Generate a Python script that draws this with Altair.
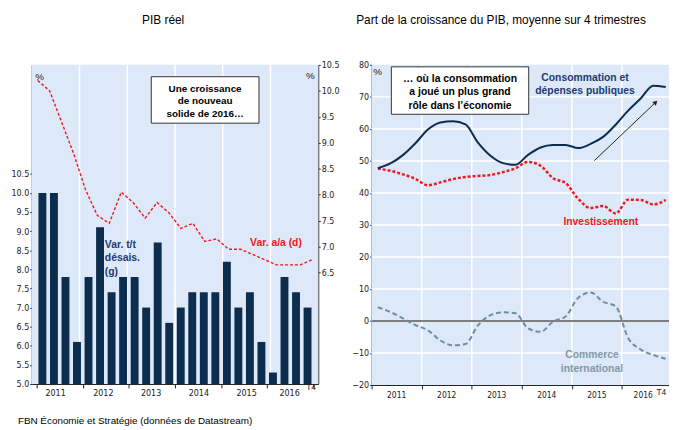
import altair as alt
import pandas as pd

# ---------------- data ----------------
quarters = list(range(24))          # 2011 T1 ... 2016 T4
years = ["2011", "2012", "2013", "2014", "2015", "2016"]

# PIB réel : variation t/t désaisonnalisée (g)
bar_tt = [10.0, 10.0, 7.8, 6.1, 7.8, 9.1, 7.4, 7.8, 7.8, 7.0, 8.7, 6.6,
          7.0, 7.4, 7.4, 7.4, 8.2, 7.0, 7.4, 6.1, 5.3, 7.8, 7.4, 7.0]
# PIB réel : variation a/a (d)
var_aa = [10.2, 10.0, 9.4, 8.8, 8.1, 7.6, 7.45, 8.05, 7.85, 7.55, 7.85, 7.65,
          7.35, 7.45, 7.1, 7.15, 6.95, 6.95, 6.85, 6.75, 6.65, 6.65, 6.65, 6.75]
# Part de la croissance du PIB (moyenne 4 trimestres)
conso = [47.7, 49.2, 51.8, 55.5, 59.8, 62.0, 62.4, 61.4, 55.7, 51.6, 49.3, 48.8,
         51.9, 54.2, 55.0, 55.0, 54.0, 55.3, 57.5, 61.3, 65.7, 69.5, 73.5, 73.1]
invest = [47.6, 46.9, 45.8, 44.4, 42.4, 43.3, 44.3, 45.0, 45.3, 45.6, 46.5, 47.7,
          49.7, 48.5, 44.6, 43.1, 38.2, 35.3, 35.9, 33.6, 37.9, 37.8, 36.4, 37.8]
commerce = [4.3, 2.8, 0.8, -1.3, -2.9, -6.1, -7.6, -7.2, -1.4, 1.8, 2.7, 2.4,
            -2.3, -3.4, -0.2, 1.4, 7.2, 8.9, 6.0, 4.6, -5.3, -8.9, -10.6, -11.8]

left_ticks = [5.0, 5.5, 6.0, 6.5, 7.0, 7.5, 8.0, 8.5, 9.0, 9.5, 10.0, 10.5]
right_ticks = [6.5, 7.0, 7.5, 8.0, 8.5, 9.0, 9.5, 10.0, 10.5]
share_ticks = [-20, -10, 0, 10, 20, 30, 40, 50, 60, 70, 80]

# ---------------- layout ----------------
W, H = 669, 422
TOP = 55
LX0, LX1, LBOT = 24, 314, 378
RX0, RX1, RBOT = 368, 672, 379

BG = "#dde9f9"
NAVY = "#0c2d4d"
RED = "#f01820"
GREY = "#6f8e9d"
LBL_NAVY = "#1d3b70"
LBL_GREY = "#8198a8"
FONT = "Liberation Sans"
NARROW = "Liberation Sans Narrow, Arial Narrow, DejaVu Sans Condensed, Liberation Sans"
AXC = "#222222"

boundaries = [q - 0.5 for q in range(0, 25, 4)]
inner_bounds = boundaries[1:-1]

LX = alt.Scale(domain=[-0.5, 23.5], range=[LX0, LX1], nice=False, zero=False)
LY = alt.Scale(domain=[5.0, 13.35], range=[LBOT, TOP], nice=False, zero=False)
LY2 = alt.Scale(domain=[4.356, 10.5], range=[LBOT, TOP], nice=False, zero=False)
RX = alt.Scale(domain=[-0.5, 23.5], range=[RX0, RX1], nice=False, zero=False)
RY = alt.Scale(domain=[-20, 80], range=[RBOT, TOP], nice=False, zero=False)

ax_common = dict(title=None, grid=False, domainColor=AXC, tickColor=AXC,
                 labelColor=AXC, labelFont=NARROW, labelFontSize=9,
                 labelFlush=False, domainWidth=1, tickWidth=1)

df = pd.DataFrame({"q": quarters, "bar": bar_tt, "aa": var_aa,
                   "conso": conso, "invest": invest, "commerce": commerce})


def text(s, x, y, size=10.5, color="black", bold=True, align="center", font=FONT):
    return alt.Chart(pd.DataFrame({"t": [s]})).mark_text(
        align=align, baseline="middle", fontSize=size, font=font,
        fontWeight="bold" if bold else "normal", color=color
    ).encode(x=alt.value(x), y=alt.value(y), text="t:N")


def box(x0, x1, y0, y1):
    return alt.Chart(pd.DataFrame({"a": [0]})).mark_rect(
        fill="white", stroke="#333333", strokeWidth=1
    ).encode(x=alt.value(x0), x2=alt.value(x1), y=alt.value(y0), y2=alt.value(y1))


def bg(x0, x1, y1):
    return alt.Chart(pd.DataFrame({"a": [0]})).mark_rect(fill=BG).encode(
        x=alt.value(x0), x2=alt.value(x1), y=alt.value(TOP), y2=alt.value(y1))


# ---------------- left panel ----------------
l_bg = bg(LX0, LX1, LBOT)
l_grid = alt.Chart(pd.DataFrame({"b": inner_bounds})).mark_rule(
    color="white", strokeWidth=1.5
).encode(x=alt.X("b:Q", scale=LX, axis=None), y=alt.value(TOP), y2=alt.value(LBOT))

bars = alt.Chart(df).mark_bar(size=8, color=NAVY).encode(
    x=alt.X("q:Q", scale=LX, axis=alt.Axis(orient="bottom", offset=LBOT - H,
                                            values=boundaries, labels=False,
                                            tickSize=4, **ax_common)),
    y=alt.Y("bar:Q", scale=LY, axis=alt.Axis(orient="left", offset=-LX0,
                                              values=left_ticks,
                                              format=".1f", tickSize=2,
                                              labelPadding=1, **ax_common)),
    y2=alt.datum(5.0),
)

aa_line = alt.Chart(df).mark_line(color=RED, strokeWidth=1.4, strokeDash=[3, 2]).encode(
    x=alt.X("q:Q", scale=LX, axis=None),
    y=alt.Y("aa:Q", scale=LY2, axis=alt.Axis(orient="right", offset=LX1 - W,
                                              values=right_ticks, format=".1f",
                                              tickSize=2, labelPadding=1, **ax_common)),
)

l_year_pos = [4 * i + 1.5 for i in range(6)]
l_year_pos[-1] -= 0.4
l_years = alt.Chart(pd.DataFrame({"p": l_year_pos, "y": years})).mark_text(
    font=NARROW, fontSize=9, color=AXC, baseline="middle"
).encode(x=alt.X("p:Q", scale=LX, axis=None), y=alt.value(387), text="y:N")
l_t4 = alt.Chart(pd.DataFrame({"p": [22.9], "t": ["T4"]})).mark_text(
    font=FONT, fontSize=8.5, color=AXC, baseline="middle"
).encode(x=alt.X("p:Q", scale=LX, axis=None), y=alt.value(381.5), text="t:N")

left_layers = [
    l_bg, l_grid, bars, aa_line, l_years, l_t4,
    box(145, 254, 67, 114),
    text("Une croissance", 199.5, 79, 10),
    text("de nouveau", 199.5, 92, 10),
    text("solide de 2016…", 199.5, 105, 10),
    text("Var. a/a (d)", 245, 235, 10.5, RED, align="left"),
    text("Var. t/t", 98, 237, 10.5, LBL_NAVY, align="left"),
    text("désais.", 98, 251, 10.5, LBL_NAVY, align="left"),
    text("(g)", 98, 265, 10.5, LBL_NAVY, align="left"),
    text("%", 32, 67, 10, "#222", bold=False),
    text("%", 306, 66, 10, "#222", bold=False),
]

# ---------------- right panel ----------------
r_bg = bg(RX0, W, RBOT)
r_vgrid = alt.Chart(pd.DataFrame({"b": inner_bounds})).mark_rule(
    color="white", strokeWidth=1.5
).encode(x=alt.X("b:Q", scale=RX, axis=None), y=alt.value(TOP), y2=alt.value(RBOT))
r_hgrid = alt.Chart(pd.DataFrame({"v": share_ticks[1:-1]})).mark_rule(
    color="white", strokeWidth=1.5
).encode(y=alt.Y("v:Q", scale=RY, axis=None), x=alt.value(RX0), x2=alt.value(W))
zero = alt.Chart(pd.DataFrame({"v": [0]})).mark_rule(
    color="#555555", strokeWidth=1.5
).encode(y=alt.Y("v:Q", scale=RY, axis=None), x=alt.value(RX0), x2=alt.value(W))

cons_line = alt.Chart(df).mark_line(color=NAVY, strokeWidth=2, interpolate="monotone").encode(
    x=alt.X("q:Q", scale=RX, axis=alt.Axis(orient="bottom", offset=RBOT - H,
                                            values=boundaries, labels=False,
                                            tickSize=4, **ax_common)),
    y=alt.Y("conso:Q", scale=RY, axis=alt.Axis(orient="left", offset=-RX0,
                                                values=share_ticks, format="d",
                                                tickSize=2, labelPadding=1, **ax_common)),
)
inv_line = alt.Chart(df).mark_line(color=RED, strokeWidth=2.5, strokeDash=[3, 2],
                                   interpolate="monotone").encode(
    x=alt.X("q:Q", scale=RX, axis=None), y=alt.Y("invest:Q", scale=RY, axis=None))
com_line = alt.Chart(df).mark_line(color=GREY, strokeWidth=2, strokeDash=[5, 3],
                                   interpolate="monotone").encode(
    x=alt.X("q:Q", scale=RX, axis=None), y=alt.Y("commerce:Q", scale=RY, axis=None))

arrow_df = pd.DataFrame({"x": [17.3], "y": [50.1], "x2": [22.2], "y2": [68.3]})
arrow = alt.Chart(arrow_df).mark_rule(color="#222", strokeWidth=1).encode(
    x=alt.X("x:Q", scale=RX, axis=None), x2="x2:Q",
    y=alt.Y("y:Q", scale=RY, axis=None), y2="y2:Q")
arrow_head = alt.Chart(arrow_df).mark_point(
    shape="triangle-up", filled=True, size=28, angle=46, color="#222", opacity=1
).encode(x=alt.X("x2:Q", scale=RX, axis=None), y=alt.Y("y2:Q", scale=RY, axis=None))

r_year_pos = [4 * i + 1.5 for i in range(6)]
r_year_pos[-1] -= 0.3
r_years = alt.Chart(pd.DataFrame({"p": r_year_pos, "y": years})).mark_text(
    font=NARROW, fontSize=8.5, color=AXC, baseline="middle"
).encode(x=alt.X("p:Q", scale=RX, axis=None), y=alt.value(389), text="y:N")
r_t4 = alt.Chart(pd.DataFrame({"p": [22.65], "t": ["T4"]})).mark_text(
    font=FONT, fontSize=8.5, color=AXC, baseline="middle"
).encode(x=alt.X("p:Q", scale=RX, axis=None), y=alt.value(386), text="t:N")

right_layers = [
    r_bg, r_vgrid, r_hgrid, zero, com_line, inv_line, cons_line, arrow, arrow_head,
    r_years, r_t4,
    box(388, 527, 57, 105),
    text("… où la consommation", 457.5, 69, 10.5),
    text("a joué un plus grand", 457.5, 83, 10.5),
    text("rôle dans l’économie", 457.5, 96.5, 10.5),
    text("Consommation et", 584, 68, 10.5, LBL_NAVY),
    text("dépenses publiques", 584, 81.5, 10.5, LBL_NAVY),
    text("Investissement", 600, 214, 10.5, RED),
    text("Commerce", 591, 349, 10.5, LBL_GREY),
    text("international", 591, 363, 10.5, LBL_GREY),
    text("%", 374, 62, 10, "#222", bold=False),
]

# ---------------- titles & source ----------------
misc = [
    text("PIB réel", 157, 10, 12, "black", bold=False),
    text("Part de la croissance du PIB, moyenne sur 4 trimestres", 499, 10, 12, "black", bold=False),
    text("FBN Économie et Stratégie (données de Datastream)", 10, 415, 10, "black",
         bold=False, align="left"),
]

chart = alt.layer(*left_layers, *right_layers, *misc).resolve_scale(
    x="independent", y="independent"
).properties(
    width=W, height=H,
    autosize=alt.AutoSizeParams(type="none"),
    padding={"left": 0, "top": 0, "right": 0, "bottom": 0},
    background="white",
).configure_view(stroke=None)

chart.save("out.html", embed_options={"renderer": "svg", "actions": False})
